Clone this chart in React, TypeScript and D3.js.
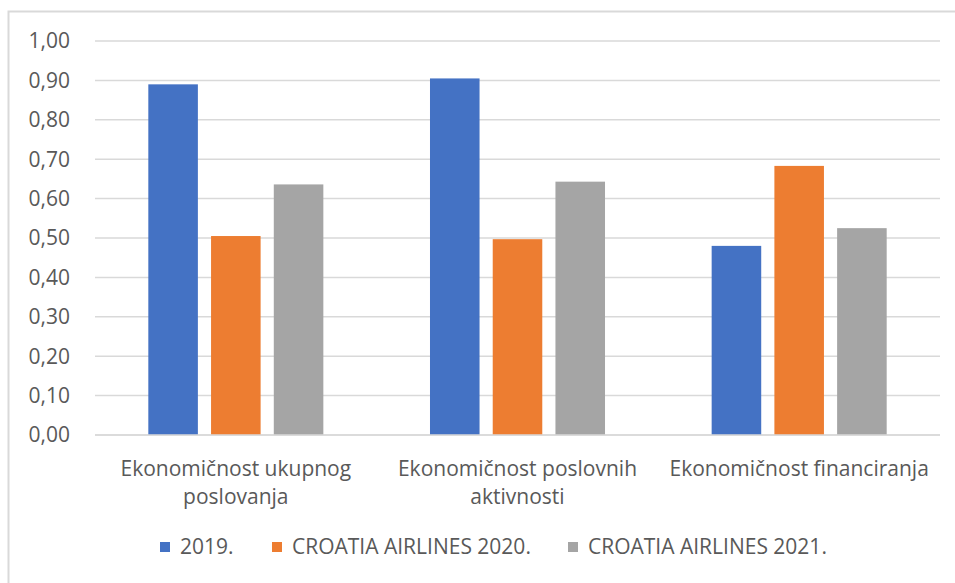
import React, { useEffect, useRef } from 'react';
import * as d3 from 'd3';

const categories = [
  'Ekonomičnost ukupnog poslovanja',
  'Ekonomičnost poslovnih aktivnosti',
  'Ekonomičnost financiranja',
];
const seriesNames = ['2019.', 'CROATIA AIRLINES 2020.', 'CROATIA AIRLINES 2021.'];
const values2019 = [0.89, 0.905, 0.48];
const values2020 = [0.505, 0.497, 0.683];
const values2021 = [0.636, 0.643, 0.525];
const yTicks = [0, 0.1, 0.2, 0.3, 0.4, 0.5, 0.6, 0.7, 0.8, 0.9, 1.0];
const colors = ['#4472c4', '#ed7d31', '#a5a5a5'];

const FONT = "'Open Sans', sans-serif";
const FS = 21;

export default function App() {
  const svgRef = useRef<SVGSVGElement>(null);

  useEffect(() => {
    const svg = d3.select(svgRef.current);
    svg.selectAll('*').remove();

    const width = 955;
    const height = 583;
    const margin = { top: 41, right: 15, bottom: 148, left: 95 };
    const series = [values2019, values2020, values2021];

    svg.append('rect')
      .attr('width', width).attr('height', height).attr('fill', '#fff');

    // outer chart border (top + left visible)
    svg.append('path')
      .attr('d', `M8.5,${height} V11.5 H${width}`)
      .attr('fill', 'none')
      .attr('stroke', '#d9d9d9')
      .attr('stroke-width', 2);

    const x0 = d3.scaleBand<string>()
      .domain(categories)
      .range([margin.left, width - margin.right]);

    const x1 = d3.scaleBand<number>()
      .domain([0, 1, 2])
      .range([0, x0.bandwidth()])
      .paddingInner(0.21)
      .paddingOuter(0.85);

    const y = d3.scaleLinear()
      .domain([0, 1])
      .range([height - margin.bottom, margin.top]);

    // gridlines
    svg.append('g')
      .selectAll('line')
      .data(yTicks)
      .join('line')
      .attr('x1', margin.left)
      .attr('x2', width - margin.right)
      .attr('y1', d => y(d))
      .attr('y2', d => y(d))
      .attr('stroke', '#d9d9d9')
      .attr('stroke-width', 1.5);

    // y labels
    svg.append('g')
      .selectAll('text')
      .data(yTicks)
      .join('text')
      .attr('x', 70)
      .attr('y', d => y(d))
      .attr('dy', '0.35em')
      .attr('text-anchor', 'end')
      .attr('font-family', FONT)
      .attr('font-size', FS)
      .attr('fill', '#595959')
      .text(d => d3.format('.2f')(d).replace('.', ','));

    // bars
    const groups = svg.append('g')
      .selectAll('g')
      .data(categories)
      .join('g')
      .attr('transform', d => `translate(${x0(d)},0)`);

    groups.selectAll('rect')
      .data((_, ci) => series.map((s, si) => ({ si, v: s[ci] })))
      .join('rect')
      .attr('x', d => x1(d.si)!)
      .attr('width', x1.bandwidth())
      .attr('y', d => y(d.v))
      .attr('height', d => y(0) - y(d.v))
      .attr('fill', d => colors[d.si]);

    // baseline over bars
    svg.append('line')
      .attr('x1', margin.left)
      .attr('x2', width - margin.right)
      .attr('y1', y(0))
      .attr('y2', y(0))
      .attr('stroke', '#d9d9d9')
      .attr('stroke-width', 1.5);

    // category labels, wrapped to the band width
    const maxW = x0.bandwidth() - 4;
    categories.forEach(cat => {
      const cx = x0(cat)! + x0.bandwidth() / 2;
      const t = svg.append('text')
        .attr('x', cx)
        .attr('y', 476)
        .attr('text-anchor', 'middle')
        .attr('font-family', FONT)
        .attr('font-size', FS)
        .attr('fill', '#595959');
      const words = cat.split(' ');
      let line: string[] = [];
      let tspan = t.append('tspan').attr('x', cx).attr('dy', 0);
      words.forEach(w => {
        line.push(w);
        tspan.text(line.join(' '));
        if ((tspan.node() as SVGTSpanElement).getComputedTextLength() > maxW && line.length > 1) {
          line.pop();
          tspan.text(line.join(' '));
          line = [w];
          tspan = t.append('tspan')
            .attr('x', cx)
            .attr('dy', 28)
            .text(w);
        }
      });
    });

    // legend
    const legendX = [160, 272, 568];
    const legend = svg.append('g')
      .selectAll('g')
      .data(seriesNames)
      .join('g')
      .attr('transform', (_, i) => `translate(${legendX[i]},547)`);
    legend.append('rect')
      .attr('x', 0).attr('y', -5).attr('width', 10).attr('height', 10)
      .attr('fill', (_, i) => colors[i]);
    legend.append('text')
      .attr('x', 20)
      .attr('dy', '0.35em')
      .attr('font-family', FONT)
      .attr('font-size', FS)
      .attr('fill', '#595959')
      .text(d => d);
  }, []);

  return (
    <svg
      ref={svgRef}
      width={955}
      height={583}
      style={{ position: 'absolute', left: 0, top: 0, display: 'block' }}
    />
  );
}
